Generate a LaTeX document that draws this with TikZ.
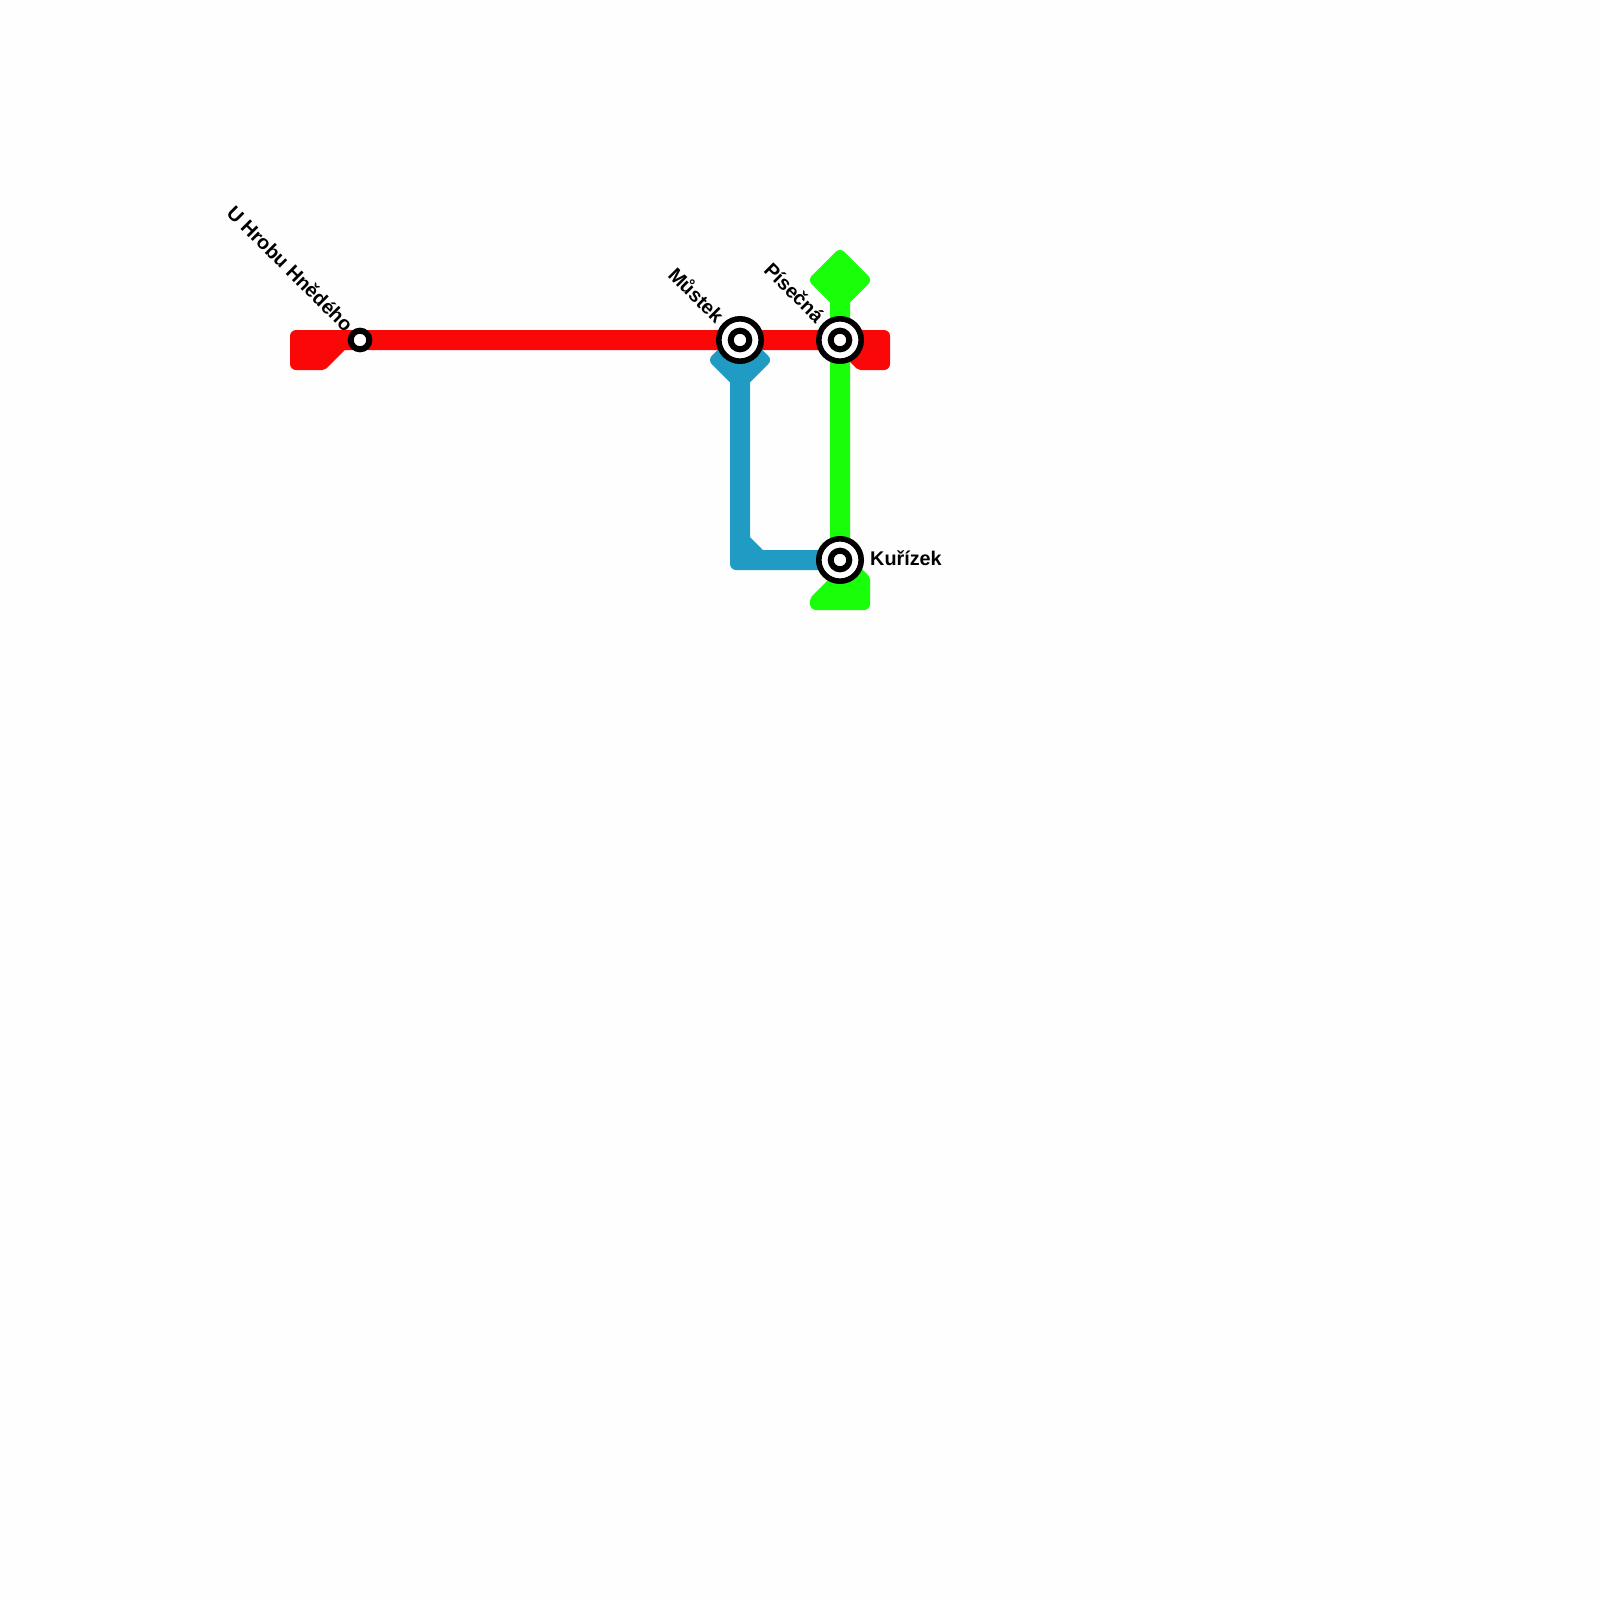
\documentclass[tikz,border=0pt]{standalone}
\usepackage{fontspec}
\setmainfont{Liberation Sans}
\definecolor{redline}{RGB}{250,8,8}
\definecolor{greenline}{RGB}{25,255,10}
\definecolor{blueline}{RGB}{31,155,196}
\definecolor{paper}{RGB}{254,254,254}
\tikzset{
  track/.style={fill=#1,draw=#1,line width=12pt,line join=round},
  ringouter/.style={circle,draw=black,fill=white,line width=5.6pt,minimum size=42.4pt,inner sep=0pt,outer sep=0pt},
  ringinner/.style={circle,draw=black,fill=white,line width=6pt,minimum size=18.6pt,inner sep=0pt,outer sep=0pt},
  lab/.style={font=\bfseries\fontsize{19.8}{22}\selectfont,text=black,inner sep=0pt}
}
\begin{document}
\begin{tikzpicture}[x=1pt,y=-1pt]
\useasboundingbox (0,0) rectangle (1600,1600);
\fill[paper] (0,0) rectangle (1600,1600);
% red line
\path[track=redline] (296,336) -- (884,336) -- (884,364) -- (860.5,364) -- (840.5,344) -- (342.5,344) -- (322.5,364) -- (296,364) -- cycle;
% blue line
\path[track=blueline] (740,336) -- (764,360) -- (744,380) -- (744,539.5) -- (760.5,556) -- (840,556) -- (840,564) -- (736,564) -- (736,380) -- (716,360) -- cycle;
% green line
\path[track=greenline] (840,256) -- (864,280) -- (844,300) -- (844,559.5) -- (864,579.5) -- (864,604) -- (816,604) -- (816,600.5) -- (836,580.5) -- (836,300) -- (816,280) -- cycle;
% stations
\node[ringinner] (hrob) at (360,340) {};
\node[ringouter] (mustekO) at (740,340) {};
\node[ringinner] (mustek) at (740,340) {};
\node[ringouter] (pisecnaO) at (840,340) {};
\node[ringinner] (pisecna) at (840,340) {};
\node[ringouter] (kurizekO) at (840,560) {};
\node[ringinner] (kurizek) at (840,560) {};
% labels
\node[lab,anchor=east,rotate=-45] (lhrob) at (350,328) {U Hrobu Hnědého};
\node[lab,anchor=east,rotate=-45] (lmustek) at (721,319) {Můstek};
\node[lab,anchor=east,rotate=-45] (lpisecna) at (821,319) {Písečná};
\node[lab,anchor=west] (lkurizek) at (870,558) {Kuřízek};
\end{tikzpicture}
\end{document}
